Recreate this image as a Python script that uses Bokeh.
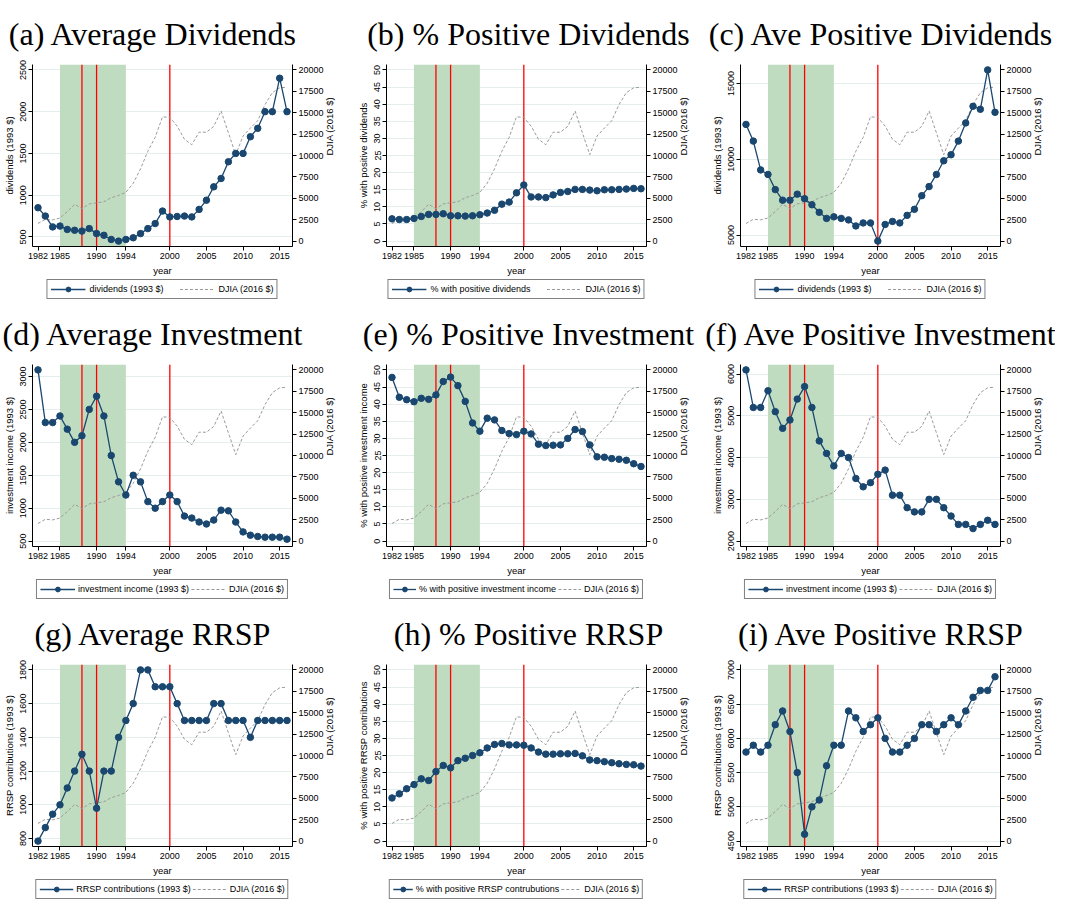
import math
from bokeh.plotting import figure
from bokeh.layouts import gridplot
from bokeh.models import (LinearAxis, Range1d, FixedTicker, BoxAnnotation, Span,
                          Legend, LegendItem)
from bokeh.embed import file_html
from bokeh.resources import INLINE

years = [1982, 1983, 1984, 1985, 1986, 1987, 1988, 1989, 1990, 1991,
         1992, 1993, 1994, 1995, 1996, 1997, 1998, 1999, 2000, 2001,
         2002, 2003, 2004, 2005, 2006, 2007, 2008, 2009, 2010, 2011,
         2012, 2013, 2014, 2015, 2016]
year_ticks = [1982, 1985, 1990, 1994, 2000, 2005, 2010, 2015]

djia = [2060, 2550, 2480, 2700, 3450, 4300, 3790, 4350, 4470, 4600,
        5070, 5330, 5700, 6750, 8440, 10500, 12120, 14520, 14450, 13430,
        11900, 11260, 12720, 12720, 13400, 15200, 12650, 10100, 12270, 13200,
        14060, 15950, 17340, 17900, 17980]
djia_ticks = [0, 2500, 5000, 7500, 10000, 12500, 15000, 17500, 20000]

avg_div = [850, 750, 620, 630, 590, 580, 570, 600, 540, 520,
           470, 450, 470, 490, 540, 600, 660, 810, 740, 745,
           750, 740, 830, 940, 1100, 1200, 1400, 1500, 1500, 1700,
           1800, 2000, 2000, 2400, 2000]
pct_div = [6.5, 6.3, 6.3, 6.6, 7.2, 7.8, 7.8, 8.0, 7.4, 7.4,
           7.3, 7.4, 7.7, 8.2, 9.0, 10.8, 11.4, 14.1, 16.4, 12.9,
           12.9, 12.7, 13.5, 14.2, 14.5, 15.1, 15.1, 14.9, 14.7, 15.0,
           15.0, 15.1, 15.2, 15.4, 15.3]
pos_div = [12300, 11200, 9300, 9000, 8000, 7300, 7300, 7700, 7400, 7000,
           6500, 6100, 6200, 6100, 6000, 5600, 5800, 5800, 4600, 5700,
           5900, 5800, 6300, 6700, 7600, 8200, 9000, 9900, 10300, 11200,
           12400, 13500, 13300, 15900, 13100]
avg_inv = [3100, 2300, 2300, 2400, 2200, 2000, 2100, 2500, 2700, 2400,
           1800, 1400, 1200, 1500, 1400, 1100, 1000, 1100, 1200, 1100,
           880, 850, 790, 760, 820, 970, 960, 790, 640, 590,
           570, 560, 560, 560, 530]
pct_inv = [47.8, 42.0, 41.3, 40.7, 41.7, 41.4, 42.7, 46.6, 47.9, 45.4,
           40.8, 34.5, 32.1, 35.9, 35.4, 32.3, 31.4, 31.1, 32.1, 31.3,
           28.3, 27.9, 28.0, 28.1, 30.0, 32.6, 32.0, 28.1, 24.6, 24.5,
           24.1, 23.9, 23.6, 22.6, 21.8]
pos_inv = [6100, 5200, 5200, 5600, 5100, 4700, 4900, 5400, 5700, 5200,
           4400, 4100, 3800, 4100, 4000, 3500, 3300, 3400, 3600, 3700,
           3100, 3100, 2800, 2700, 2700, 3000, 3000, 2800, 2600, 2400,
           2400, 2300, 2400, 2500, 2400]
avg_rrsp = [785, 865, 945, 1000, 1100, 1200, 1300, 1200, 980, 1200,
            1200, 1400, 1500, 1600, 1800, 1800, 1700, 1700, 1700, 1600,
            1500, 1500, 1500, 1500, 1600, 1600, 1500, 1500, 1500, 1400,
            1500, 1500, 1500, 1500, 1500]
pct_rrsp = [12.6, 13.8, 15.3, 16.5, 18.2, 17.7, 20.3, 22.1, 21.4, 23.5,
            24.2, 25.0, 25.8, 27.2, 28.2, 28.5, 28.1, 28.1, 28.0, 27.2,
            26.0, 25.4, 25.4, 25.5, 25.5, 25.6, 24.9, 23.7, 23.5, 23.2,
            22.9, 22.6, 22.4, 22.3, 21.9]
pos_rrsp = [5800, 5900, 5800, 5900, 6200, 6400, 6100, 5500, 4600, 5000,
            5100, 5600, 5900, 5900, 6400, 6300, 6100, 6200, 6300, 6000,
            5800, 5800, 5900, 6000, 6200, 6200, 6100, 6200, 6300, 6200,
            6400, 6600, 6700, 6700, 6900]

titles = ["(a) Average Dividends", "(b) % Positive Dividends", "(c) Ave Positive Dividends",
          "(d) Average Investment", "(e) % Positive Investment", "(f) Ave Positive Investment",
          "(g) Average RRSP", "(h) % Positive RRSP", "(i) Ave Positive RRSP"]
series = [avg_div, pct_div, pos_div, avg_inv, pct_inv, pos_inv, avg_rrsp, pct_rrsp, pos_rrsp]
y_labels = ["dividends (1993 $)", "% with positive dividends", "dividends (1993 $)",
            "investment income (1993 $)", "% with positive investment income", "investment income (1993 $)",
            "RRSP contributions (1993 $)", "% with positive RRSP contributions", "RRSP contributions (1993 $)"]
legend_labels = ["dividends (1993 $)", "% with positive dividends", "dividends (1993 $)",
                 "investment income (1993 $)", "% with positive investment income", "investment income (1993 $)",
                 "RRSP contributions (1993 $)", "% with positive RRSP contrubutions", "RRSP contributions (1993 $)"]
djia_label = "DJIA (2016 $)"
pct_ticks = [0, 5, 10, 15, 20, 25, 30, 35, 40, 45, 50]
y_ticks = [[500, 1000, 1500, 2000, 2500], pct_ticks, [5000, 10000, 15000],
           [500, 1000, 1500, 2000, 2500, 3000], pct_ticks, [2000, 3000, 4000, 5000, 6000],
           [800, 1000, 1200, 1400, 1600, 1800], pct_ticks, [4500, 5000, 5500, 6000, 6500, 7000]]

recession = (1985, 1994)
red_years = [1988, 1990, 2000]

NAVY = "#1a476f"
GRAYL = "#9a9a9a"
SANS = "Liberation Sans"
SERIF = "Liberation Serif"

# ---- layout (pixels) ----
col_left = [32, 38, 38]
col_right = [56, 56, 55]
FW = 260
TOP, FH, BOTTOM, LEG_H = 64, 186, 28, 22
PAD = 5.5
page_x0 = 8
title_centers = [162, 536, 890]
TITLE_PX = 32
LEG_FONT = 9

ARIAL = {" ": 278, "%": 889, "(": 333, ")": 333, "$": 556,
         "a": 556, "b": 556, "c": 500, "d": 556, "e": 556, "f": 278, "g": 556, "h": 556,
         "i": 222, "j": 222, "k": 500, "l": 222, "m": 833, "n": 556, "o": 556, "p": 556,
         "q": 556, "r": 333, "s": 500, "t": 278, "u": 556, "v": 500, "w": 722, "x": 500,
         "y": 500, "z": 500, "A": 667, "D": 722, "I": 278, "J": 500, "P": 667, "R": 722,
         "S": 667}
TIMES = {" ": 250, "%": 833, "(": 333, ")": 333,
         "a": 444, "b": 500, "c": 444, "d": 500, "e": 444, "f": 333, "g": 500, "h": 500,
         "i": 278, "j": 278, "k": 500, "l": 278, "m": 778, "n": 500, "o": 500, "p": 500,
         "q": 500, "r": 333, "s": 389, "t": 278, "u": 500, "v": 500, "w": 722, "x": 500,
         "y": 500, "z": 444, "A": 722, "D": 722, "I": 333, "P": 556, "R": 667, "S": 556,
         "V": 722}


def text_w(s, table, px):
    return sum(table.get(ch, 556) for ch in s) * px / 1000.0


def padded(lo, hi, npx):
    span = hi - lo
    u = PAD * span / (npx - 2 * PAD)
    return lo - u, hi + u


def style_axis(ax):
    ax.axis_line_color = "black"
    ax.axis_line_width = 1
    ax.major_tick_line_color = "black"
    ax.major_tick_out = 4
    ax.major_tick_in = 0
    ax.minor_tick_line_color = None
    ax.major_label_text_font = SANS
    ax.major_label_text_font_size = "9px"
    ax.major_label_text_color = "black"
    ax.axis_label_text_font = SANS
    ax.axis_label_text_font_size = "9.5px"
    ax.axis_label_text_font_style = "normal"
    ax.axis_label_text_color = "black"
    ax.major_label_standoff = 2
    ax.axis_label_standoff = 3


col_x = [page_x0]
for c in range(2):
    col_x.append(col_x[-1] + col_left[c] + FW + col_right[c])

plot_rows = [[], [], []]
leg_rows = [[], [], []]
for i in range(9):
    r, c = divmod(i, 3)
    W = col_left[c] + FW + col_right[c]
    H = TOP + FH + BOTTOM
    vals = series[i]
    ticks = y_ticks[i]
    ylo, yhi = padded(min(min(vals), ticks[0]), max(max(vals), ticks[-1]), FH)
    xlo, xhi = padded(min(years), max(years), FW)
    dlo, dhi = padded(min(min(djia), djia_ticks[0]), max(max(djia), djia_ticks[-1]), FH)

    p = figure(width=W, height=H, output_backend="svg", toolbar_location=None,
               x_range=Range1d(xlo, xhi), y_range=Range1d(ylo, yhi),
               min_border_left=col_left[c], min_border_right=col_right[c],
               min_border_top=TOP, min_border_bottom=BOTTOM)
    p.outline_line_color = None
    p.background_fill_color = "white"
    p.border_fill_color = "white"

    frame_left_abs = col_x[c] + col_left[c]
    tw = text_w(titles[i], TIMES, TITLE_PX)
    p.title.text = titles[i]
    p.title.text_font = SERIF
    p.title.text_font_size = "%dpx" % TITLE_PX
    p.title.text_font_style = "normal"
    p.title.text_color = "black"
    p.title.align = "left"
    p.title.offset = title_centers[c] - frame_left_abs - tw / 2.0
    p.title.standoff = 26

    p.extra_y_ranges = {"djia": Range1d(dlo, dhi)}

    p.xgrid.grid_line_color = None
    p.ygrid.grid_line_color = "#e4eeec"
    p.ygrid.grid_line_width = 1
    p.ygrid.ticker = FixedTicker(ticks=ticks)

    p.xaxis.ticker = FixedTicker(ticks=year_ticks)
    p.xaxis.axis_label = "year"
    p.yaxis.ticker = FixedTicker(ticks=ticks)
    p.yaxis.axis_label = y_labels[i]
    p.yaxis.major_label_orientation = "vertical"
    style_axis(p.xaxis[0])
    style_axis(p.yaxis[0])

    rax = LinearAxis(y_range_name="djia", axis_label=djia_label,
                     ticker=FixedTicker(ticks=djia_ticks))
    style_axis(rax)
    rax.axis_label_orientation = math.pi / 2
    p.add_layout(rax, "right")

    p.add_layout(BoxAnnotation(left=recession[0], right=recession[1], fill_color="#c0dcc0",
                               fill_alpha=1.0, line_color=None, level="underlay"))
    for yr in red_years:
        p.add_layout(Span(location=yr, dimension="height", line_color="#ff0000",
                          line_width=1.3, level="underlay"))

    p.line(years, djia, y_range_name="djia", line_color=GRAYL, line_dash="3 2", line_width=1)
    p.line(years, vals, line_color=NAVY, line_width=1.3)
    p.scatter(years, vals, size=6.5, fill_color=NAVY, line_color=NAVY)
    plot_rows[r].append(p)

    # ---- legend strip below the panel (same series, kept out of view; only the key shows) ----
    lf = figure(width=W, height=LEG_H, output_backend="svg", toolbar_location=None,
                x_range=Range1d(0, 1), y_range=Range1d(0, 1),
                x_axis_location=None, y_axis_location=None,
                min_border_left=col_left[c], min_border_right=col_right[c],
                min_border_top=0, min_border_bottom=0)
    lf.grid.visible = False
    lf.outline_line_color = None
    lf.background_fill_color = "white"
    lf.border_fill_color = "white"
    e1 = lf.line(years, vals, line_color=NAVY, line_width=1.3)
    e2 = lf.scatter(years, vals, size=6.5, fill_color=NAVY, line_color=NAVY)
    e3 = lf.line(years, djia, line_color=GRAYL, line_dash="3 2", line_width=1)

    GW, STAND, PADL, LH = 35, 4, 3, 12
    t1 = text_w(legend_labels[i], ARIAL, LEG_FONT)
    t2 = text_w(djia_label, ARIAL, LEG_FONT)
    spacing = 16
    lw = 2 * PADL + 2 * (GW + STAND) + t1 + t2 + spacing
    if lw > FW - 4:
        spacing = 2
        STAND = 3
        GW = min(35, int((FW - 6 - 2 * PADL - t1 - t2 - spacing) / 2 - STAND))
    leg = Legend(items=[LegendItem(label=legend_labels[i], renderers=[e1, e2]),
                        LegendItem(label=djia_label, renderers=[e3])],
                 orientation="horizontal", location="center",
                 border_line_color="black", border_line_width=1,
                 background_fill_color="white", background_fill_alpha=1,
                 label_text_font=SANS, label_text_font_size="%dpx" % LEG_FONT,
                 label_text_color="black",
                 glyph_width=GW, glyph_height=LH, label_height=LH, label_width=0,
                 padding=PADL, spacing=spacing, margin=0, label_standoff=STAND)
    lf.add_layout(leg)
    leg_rows[r].append(lf)

grid = gridplot([plot_rows[0], leg_rows[0], plot_rows[1], leg_rows[1],
                 plot_rows[2], leg_rows[2]], toolbar_location=None)
open("out.html", "w").write(file_html(grid, INLINE))
